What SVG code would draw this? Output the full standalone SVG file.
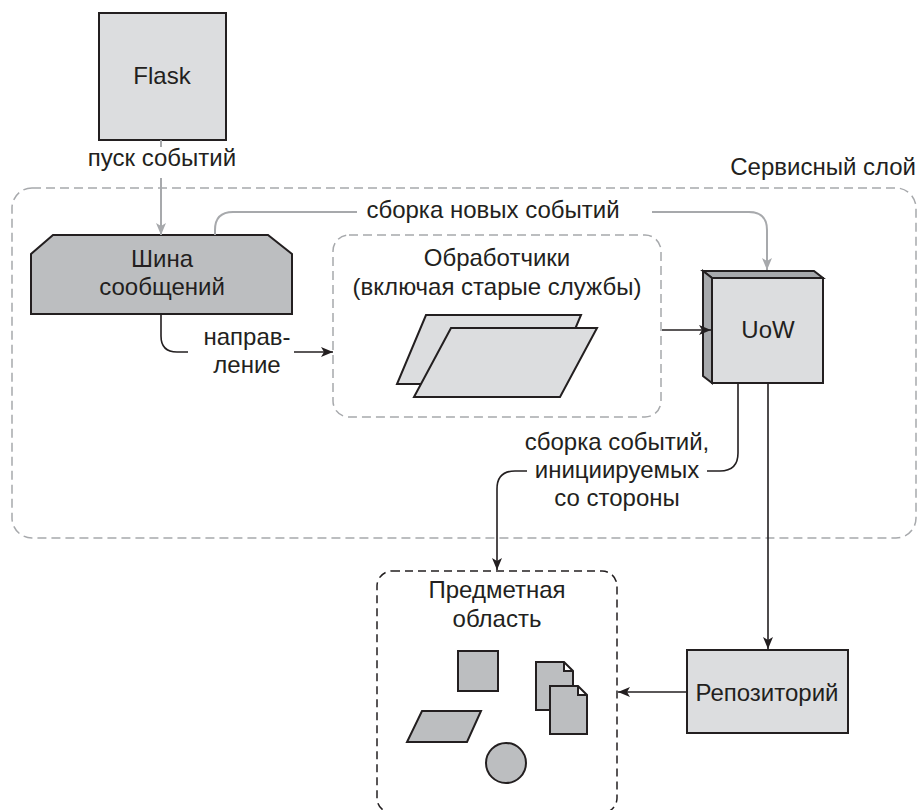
<svg xmlns="http://www.w3.org/2000/svg" width="920" height="810" viewBox="0 0 920 810">
<defs>
<style>
text{font-family:"Liberation Sans",Arial,sans-serif;font-size:24px;fill:#231f20;text-anchor:middle}
.box{stroke:#231f20;stroke-width:2}
.light{fill:#dcdddf}
.dark{fill:#bcbec0}
.side{fill:#a7a9ac}
.gdash{fill:none;stroke:#a7a9ac;stroke-width:1.5;stroke-dasharray:9 5}
.bdash{fill:none;stroke:#231f20;stroke-width:1.5;stroke-dasharray:8 5}
.gline{fill:none;stroke:#a7a9ac;stroke-width:2}
.bline{fill:none;stroke:#231f20;stroke-width:1.6}
</style>
<marker id="ag" viewBox="0 0 12 10" refX="12" refY="5" markerWidth="12" markerHeight="10" markerUnits="userSpaceOnUse" orient="auto">
<path d="M0,0 L12,5 L0,10 L3,5 Z" fill="#a7a9ac"/>
</marker>
<marker id="ab" viewBox="0 0 12 10" refX="12" refY="5" markerWidth="12" markerHeight="10" markerUnits="userSpaceOnUse" orient="auto">
<path d="M0,0 L12,5 L0,10 L3,5 Z" fill="#231f20"/>
</marker>
</defs>

<g id="service-layer">
<rect x="12" y="188" width="904" height="350" rx="20" class="gdash"/>
<text x="916" y="175" style="text-anchor:end">Сервисный слой</text>
</g>

<g id="handlers">
<rect x="333" y="235" width="328" height="182" rx="16" class="gdash"/>
<text x="497" y="266">Обработчики</text>
<text x="497" y="295">(включая старые службы)</text>
<polygon points="426,315 581,315 552,384 397,384" class="box light"/>
<polygon points="451,328 597,328 560,397 414,397" class="box light"/>
</g>

<g id="flask">
<rect x="99" y="13" width="127" height="127" class="box light"/>
<text x="162" y="84">Flask</text>
</g>

<g id="message-bus">
<polygon points="53,235 268,235 292,254 292,314 31,314 31,254" class="box dark"/>
<text x="162" y="267">Шина</text>
<text x="162" y="295">сообщений</text>
</g>

<g id="uow">
<polygon points="703,271 814,271 823,278 712,278" class="box side"/>
<polygon points="703,271 712,278 712,383 703,376" class="box side"/>
<rect x="712" y="278" width="111" height="105" class="box light"/>
<text x="768" y="338">UoW</text>
</g>

<g id="repository">
<rect x="687" y="650" width="161" height="83" class="box light"/>
<text x="767" y="701">Репозиторий</text>
</g>

<g id="domain">
<rect x="377" y="571" width="240" height="242" rx="15" class="bdash"/>
<text x="497" y="598">Предметная</text>
<text x="497" y="627">область</text>
<rect x="458" y="651" width="40" height="40" class="box dark"/>
<polygon points="422,711 481,711 467,742 407,742" class="box dark"/>
<circle cx="506" cy="763" r="20" class="box dark"/>
<path d="M536,662 H564 L573,671 V710 H536 Z M564,662 V671 H573" class="box dark"/>
<path d="M550,686 H578 L587,695 V734 H550 Z M578,686 V695 H587" class="box dark"/>
</g>

<g id="connectors">
<path d="M161,140 V147" class="gline"/>
<text x="162" y="166">пуск событий</text>
<path d="M161,178 V235" class="gline" marker-end="url(#ag)"/>

<path d="M215,235 V230 Q215,212 233,212 H357" class="gline"/>
<path d="M652,212 H749 Q767,212 767,230 V270" class="gline" marker-end="url(#ag)"/>
<text x="493" y="218">сборка новых событий</text>

<path d="M161,314 V336 Q161,352 177,352 H188" class="bline"/>
<path d="M294,352 H333" class="bline" marker-end="url(#ab)"/>
<text x="247" y="345">направ-</text>
<text x="247" y="373">ление</text>

<path d="M662,330 H711" class="bline" marker-end="url(#ab)"/>

<path d="M738,383 V453 Q738,471 720,471 H707" class="bline"/>
<path d="M527,471 H515 Q497,471 497,489 V570" class="bline" marker-end="url(#ab)"/>
<text x="617" y="450">сборка событий,</text>
<text x="617" y="478">инициируемых</text>
<text x="617" y="506">со стороны</text>

<path d="M768,383 V649" class="bline" marker-end="url(#ab)"/>
<path d="M687,692 H618" class="bline" marker-end="url(#ab)"/>
</g>
</svg>
